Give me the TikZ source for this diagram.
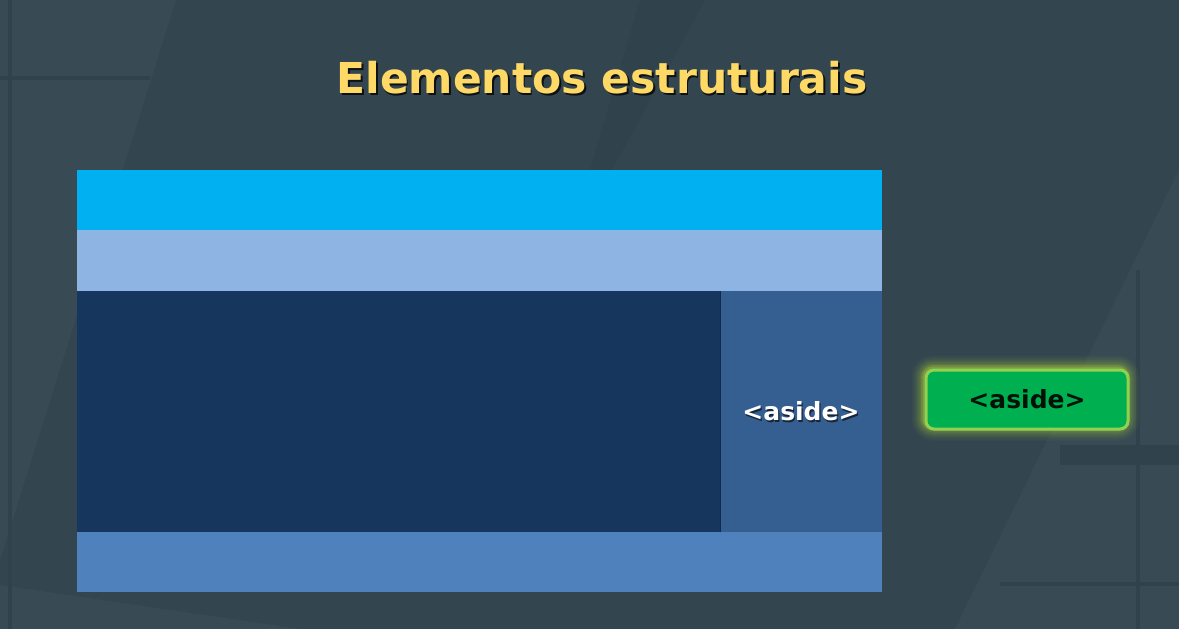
\documentclass[tikz,border=0pt]{standalone}
\usepackage{fontspec}
\setmainfont{DejaVu Sans}
\definecolor{bgc}{HTML}{33454F}
\definecolor{bgl}{HTML}{384B54}
\definecolor{bgd}{HTML}{30424B}
\definecolor{titley}{HTML}{FFD966}
\definecolor{hdr}{HTML}{00B0F0}
\definecolor{navc}{HTML}{8EB4E3}
\definecolor{mainc}{HTML}{17365D}
\definecolor{asidec}{HTML}{365F91}
\definecolor{footc}{HTML}{4F81BD}
\definecolor{btnfill}{HTML}{00B050}
\definecolor{btnline}{HTML}{92D050}
\definecolor{glowc}{HTML}{B5E03A}
\tikzset{
  block/.style={anchor=north west, inner sep=0pt, outer sep=0pt, draw=none},
  lbl/.style={font=\bfseries\fontsize{25}{29}\selectfont, inner sep=0pt},
  ttl/.style={font=\bfseries\fontsize{42.5}{48}\selectfont, inner sep=0pt},
}
\begin{document}
\begin{tikzpicture}[x=1pt,y=-1pt]
\useasboundingbox (0,0) rectangle (1179,629);
% background
\fill[bgc] (0,0) rectangle (1179,629);
\fill[bgl] (0,0) -- (176,0) -- (0,560) -- cycle;
\fill[bgl] (1179,170) -- (1179,629) -- (955,629) -- cycle;
\fill[bgl] (0,585) -- (300,629) -- (0,629) -- cycle;
\fill[bgd] (640,0) -- (705,0) -- (612,170) -- (590,170) -- cycle;
\fill[bgd] (0,76) rectangle (150,80);
\fill[bgd] (8,0) rectangle (12,629);
\fill[bgd] (1060,445) rectangle (1179,465);
\fill[bgd] (1136,270) rectangle (1140,629);
\fill[bgd] (1000,582) rectangle (1179,586);
% title
\node[ttl, text=black!75!bgc] (titleshadow) at (603.6,79.6) {Elementos estruturais};
\node[ttl, text=titley] (title) at (602,78) {Elementos estruturais};
% layout blocks
\node[block, fill=hdr, minimum width=805pt, minimum height=60pt] (header) at (77,170) {};
\node[block, fill=navc, minimum width=805pt, minimum height=61pt] (nav) at (77,230) {};
\node[block, fill=mainc, minimum width=643pt, minimum height=241pt] (main) at (77,291) {};
\node[block, fill=asidec, minimum width=162pt, minimum height=241pt] (aside) at (720,291) {};
\node[block, fill=footc, minimum width=805pt, minimum height=60pt] (footer) at (77,532) {};
\draw[mainc!80!black, line width=0.8pt] (main.north east) -- (main.south east);
\node[lbl, text=black!60!asidec] at ([shift={(1.2,1.2)}]aside.center) {<aside>};
\node[lbl, text=white] (asidelbl) at (aside.center) {<aside>};
% glowing button
\foreach \w/\o in {26/0.04,22/0.05,18/0.07,14/0.09,10/0.12,7/0.17,4/0.25}{
  \draw[glowc, line width=\w pt, opacity=\o, rounded corners=9pt] (924.5,368.5) rectangle (1126.5,427.5);
}
\node[anchor=north west, minimum width=202pt, minimum height=59pt, inner sep=0pt,
      fill=btnfill, draw=btnline, line width=3pt, rounded corners=8pt] (btn) at (924.5,368.5) {};
\node[lbl, text=black!90!btnfill] (btnlbl) at (btn.center) {<aside>};
\end{tikzpicture}
\end{document}
